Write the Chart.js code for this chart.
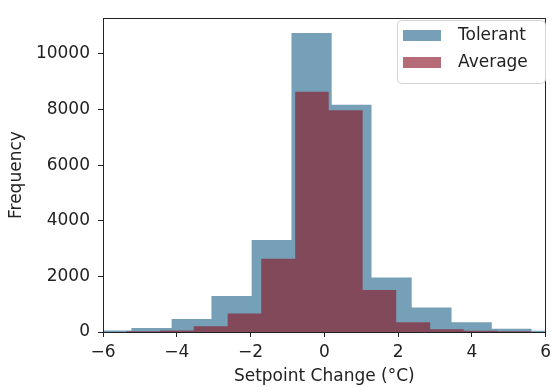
<!DOCTYPE html>
<html>
<head>
<meta charset="utf-8">
<script src="https://cdn.jsdelivr.net/npm/chart.js@4/dist/chart.umd.min.js"></script>
<style>
  body { margin: 0; background: #fff; }
  #wrap { width: 556px; height: 387px; }
</style>
</head>
<body>
<div id="wrap"><canvas id="hist" width="556" height="387"></canvas></div>
<script>
// bin edges and counts
const tolerantEdges = [-6.32, -5.23, -4.14, -3.06, -1.97, -0.89, 0.20, 1.28, 2.37, 3.45, 4.54, 5.62, 6.71];
const tolerantCounts = [50, 140, 465, 1290, 3305, 10745, 8170, 1960, 880, 352, 115, 45];

const averageEdges = [-5.37, -4.45, -3.54, -2.62, -1.71, -0.79, 0.12, 1.04, 1.95, 2.87, 3.78, 4.70, 5.61];
const averageCounts = [30, 55, 210, 668, 2636, 8636, 7968, 1512, 352, 100, 45, 25];

const xTicks = [-6, -4, -2, 0, 2, 4, 6];
const yTicks = [0, 2000, 4000, 6000, 8000, 10000];
const yMax = 11280;

const tolerantColor = "rgb(118,160,183)";
const averageColor = "rgba(138,22,38,0.63)";
const textColor = "#222";
const font = "DejaVu Sans";

//turn edges + counts into step points
function stepPoints(edges, counts) {
    let pts = [];
    for (let i = 0; i < counts.length; i++) {
        pts.push({ x: edges[i], y: counts[i] });
    }
    pts.push({ x: edges[edges.length - 1], y: counts[counts.length - 1] });
    return pts;
}

//box around the plot + legend in upper right
const framePlugin = {
    id: "frame",
    afterDatasetsDraw(chart) {
        const a = chart.chartArea;
        const ctx = chart.ctx;
        ctx.save();
        ctx.strokeStyle = textColor;
        ctx.lineWidth = 1;
        ctx.strokeRect(Math.round(a.left) + 0.5, Math.round(a.top) + 0.5,
            Math.round(a.right - a.left) - 1, Math.round(a.bottom - a.top));
        ctx.restore();
    },
    afterDraw(chart) {
        const ctx = chart.ctx;
        const items = chart.data.datasets.slice().reverse();
        ctx.save();
        ctx.fillStyle = "rgba(255,255,255,0.8)";
        ctx.strokeStyle = "#d4d4d4";
        ctx.lineWidth = 1;
        ctx.beginPath();
        ctx.roundRect(397.5, 20.5, 148, 63, 4);
        ctx.fill();
        ctx.stroke();
        ctx.font = "17px '" + font + "'";
        ctx.textBaseline = "middle";
        items.forEach((ds, i) => {
            const y = 30 + i * 27;
            ctx.fillStyle = ds.legendColor;
            ctx.fillRect(403, y, 38, 11);
            ctx.fillStyle = textColor;
            ctx.fillText(ds.label, 458, y + 6);
        });
        ctx.restore();
    }
};

new Chart(document.getElementById("hist"), {
    type: "line",
    plugins: [framePlugin],
    data: {
        //index 0 is drawn on top
        datasets: [
            {
                label: "Average",
                data: stepPoints(averageEdges, averageCounts),
                backgroundColor: averageColor,
                legendColor: "rgb(181,108,118)",
                borderWidth: 0,
                pointRadius: 0,
                stepped: true,
                fill: "origin",
            },
            {
                label: "Tolerant",
                data: stepPoints(tolerantEdges, tolerantCounts),
                backgroundColor: tolerantColor,
                legendColor: tolerantColor,
                borderWidth: 0,
                pointRadius: 0,
                stepped: true,
                fill: "origin",
            },
        ],
    },
    options: {
        responsive: false,
        animation: false,
        events: [],
        layout: { padding: { top: 11, right: 4, left: 0, bottom: 0 } },
        plugins: {
            legend: { display: false },
            tooltip: { enabled: false },
        },
        scales: {
            x: {
                type: "linear",
                min: -6,
                max: 6,
                afterBuildTicks: (scale) => { scale.ticks = xTicks.map(v => ({ value: v })); },
                afterFit: (scale) => { scale.height = 55; },
                grid: { drawOnChartArea: false, drawTicks: true, tickLength: 5, color: textColor },
                border: { display: false },
                ticks: {
                    color: textColor,
                    font: { family: font, size: 17 },
                    padding: 5,
                    maxRotation: 0,
                    callback: (v) => String(v).replace("-", "\u2212"),
                },
                title: {
                    display: true,
                    text: "Setpoint Change (°C)",
                    color: textColor,
                    font: { family: font, size: 17 },
                    padding: { top: 1, bottom: 0 },
                },
            },
            y: {
                min: 0,
                max: yMax,
                afterBuildTicks: (scale) => { scale.ticks = yTicks.map(v => ({ value: v })); },
                afterFit: (scale) => { scale.width = 103; },
                grid: { drawOnChartArea: false, drawTicks: true, tickLength: 5, color: textColor },
                border: { display: false },
                ticks: {
                    color: textColor,
                    font: { family: font, size: 17 },
                    padding: 8,
                    callback: (v) => String(v),
                },
                title: {
                    display: true,
                    text: "Frequency",
                    color: textColor,
                    font: { family: font, size: 17 },
                    padding: { top: 6, bottom: 0 },
                },
            },
        },
    },
});
</script>
</body>
</html>
